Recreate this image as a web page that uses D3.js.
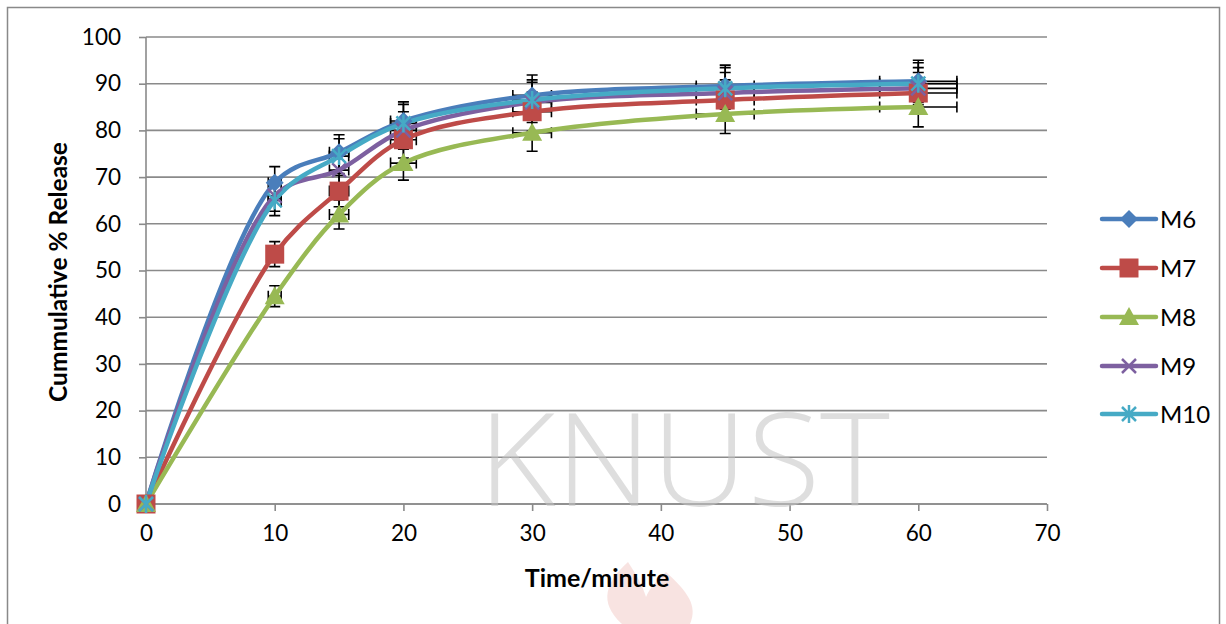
<!DOCTYPE html>
<html><head><meta charset="utf-8">
<script src="https://cdn.jsdelivr.net/npm/d3@7"></script>
<style>html,body{margin:0;padding:0;background:#fff;}svg{display:block;}</style>
</head><body>
<svg id="c" width="1226" height="624"></svg>
<script>
const times = [0, 10, 15, 20, 30, 45, 60];
const seriesNames = ["M6", "M7", "M8", "M9", "M10"];
const M6 = [0, 68.8, 75.3, 82.0, 87.5, 89.5, 90.5];
const M7 = [0, 53.5, 67.0, 78.0, 84.0, 86.5, 88.0];
const M8 = [0, 44.5, 62.0, 73.0, 79.5, 83.5, 85.0];
const M9 = [0, 66.0, 71.5, 80.0, 86.0, 88.0, 89.0];
const M10 = [0, 65.0, 74.5, 81.5, 86.5, 89.0, 90.0];
const errorPercent = 5; // Excel "Percentage" error bars, both X and Y
const xTicks = [0, 10, 20, 30, 40, 50, 60, 70];
const yTicks = [0, 10, 20, 30, 40, 50, 60, 70, 80, 90, 100];
const colors = ["#4A7EBB", "#BE4B48", "#98B954", "#7D60A0", "#46AAC5"];
const markers = ["diamond", "square", "triangle", "x", "star"];
const allSeries = [M6, M7, M8, M9, M10];

const svg = d3.select("#c");
const FONT = "Lato, 'Open Sans', 'DejaVu Sans', sans-serif";
const x = d3.scaleLinear().domain([0, 70]).range([146, 1047]);
const y = d3.scaleLinear().domain([0, 100]).range([504, 37]);

// outer frame
svg.append("rect").attr("x", 7.5).attr("y", 7.5).attr("width", 1212).attr("height", 640)
  .attr("fill", "#fff").attr("stroke", "#898989").attr("stroke-width", 1.5);

// faint flame watermark
svg.append("path")
  .attr("d", "M622,624 C598,602 606,582 628,562 C638,577 643,587 646,597 C650,587 658,580 666,572 C688,592 698,606 690,624 Z")
  .attr("fill", "#eab0a8").attr("opacity", 0.35);

// gridlines
svg.append("g").selectAll("line").data(yTicks).join("line")
  .attr("x1", x(0)).attr("x2", x(70)).attr("y1", d => y(d)).attr("y2", d => y(d))
  .attr("stroke", "#8a8a8a").attr("stroke-width", 1.6);

// y axis
const ya = svg.append("g").attr("transform", `translate(${x(0)},0)`)
  .call(d3.axisLeft(y).tickValues(yTicks).tickSize(7).tickPadding(18));
ya.select(".domain").attr("stroke", "#8a8a8a").attr("stroke-width", 1.6).attr("d", `M0,${y(100)}V${y(0)}`);
ya.selectAll(".tick line").attr("stroke", "#8a8a8a").attr("stroke-width", 1.6);
ya.selectAll(".tick text").attr("font-family", FONT).attr("font-size", 22.5).attr("fill", "#000");

// x axis
const xa = svg.append("g").attr("transform", `translate(0,${y(0)})`)
  .call(d3.axisBottom(x).tickValues(xTicks).tickSize(7).tickPadding(14));
xa.select(".domain").attr("stroke", "#8a8a8a").attr("stroke-width", 1.6).attr("d", `M${x(0)},0H${x(70)}`);
xa.selectAll(".tick line").attr("stroke", "#8a8a8a").attr("stroke-width", 1.6);
xa.selectAll(".tick text").attr("font-family", FONT).attr("font-size", 22.5).attr("fill", "#000");

// KNUST watermark
svg.append("text").attr("x", 684).attr("y", 506).attr("text-anchor", "middle")
  .attr("font-family", "'Open Sans', Lato, sans-serif").attr("font-weight", 300)
  .attr("font-size", 130).attr("fill", "#c4c4c4").attr("opacity", 0.55)
  .attr("textLength", 412).attr("lengthAdjust", "spacingAndGlyphs")
  .text("KNUST");

// axis titles
svg.append("text").attr("transform", "translate(67,272) rotate(-90)").attr("text-anchor", "middle")
  .attr("font-family", FONT).attr("font-weight", "bold").attr("font-size", 24.5).attr("fill", "#000")
  .text("Cummulative % Release");
svg.append("text").attr("x", 597).attr("y", 587).attr("text-anchor", "middle")
  .attr("font-family", FONT).attr("font-weight", "bold").attr("font-size", 25).attr("fill", "#000")
  .text("Time/minute");

function markerPath(type) {
  switch (type) {
    case "diamond": return "M0,-9L9,0L0,9L-9,0Z";
    case "square": return "M-9.5,-9.5H9.5V9.5H-9.5Z";
    case "triangle": return "M0,-10L10,8H-10Z";
    case "x": return "M-7,-7L7,7M-7,7L7,-7";
    case "star": return "M-7,-7L7,7M-7,7L7,-7M0,-9V9";
  }
}

const line = d3.line().x((d, i) => x(times[i])).y(d => y(d)).curve(d3.curveCatmullRom.alpha(0.5));

// error bars (below lines)
const eb = svg.append("g").attr("stroke", "#000").attr("stroke-width", 1.6).attr("fill", "none");
allSeries.forEach(vals => {
  vals.forEach((v, i) => {
    const t = times[i];
    const dy = v * errorPercent / 100, dx = t * errorPercent / 100;
    if (dy > 0) {
      eb.append("path").attr("d",
        `M${x(t)},${y(v + dy)}V${y(v - dy)}M${x(t) - 5.5},${y(v + dy)}h11M${x(t) - 5.5},${y(v - dy)}h11`);
    }
    if (dx > 0) {
      eb.append("path").attr("d",
        `M${x(t - dx)},${y(v)}H${x(t + dx)}M${x(t - dx)},${y(v) - 5.5}v11M${x(t + dx)},${y(v) - 5.5}v11`);
    }
  });
});

// series lines + markers
allSeries.forEach((vals, s) => {
  svg.append("path").datum(vals).attr("d", line).attr("fill", "none")
    .attr("stroke", colors[s]).attr("stroke-width", 4.5).attr("stroke-linejoin", "round").attr("stroke-linecap", "round");
});
allSeries.forEach((vals, s) => {
  const g = svg.append("g");
  const isStroke = markers[s] === "x" || markers[s] === "star";
  g.selectAll("path").data(vals).join("path")
    .attr("transform", (d, i) => `translate(${x(times[i])},${y(d)})`)
    .attr("d", markerPath(markers[s]))
    .attr("fill", isStroke ? "none" : colors[s])
    .attr("stroke", isStroke ? colors[s] : "none")
    .attr("stroke-width", isStroke ? 2.5 : 0);
});

// legend
const legendY = [219, 268, 317, 366, 414];
seriesNames.forEach((name, s) => {
  const g = svg.append("g").attr("transform", `translate(0,${legendY[s]})`);
  g.append("line").attr("x1", 1102).attr("x2", 1156).attr("y1", 0).attr("y2", 0)
    .attr("stroke", colors[s]).attr("stroke-width", 4.5).attr("stroke-linecap", "round");
  const isStroke = markers[s] === "x" || markers[s] === "star";
  g.append("path").attr("transform", "translate(1129,0)").attr("d", markerPath(markers[s]))
    .attr("fill", isStroke ? "none" : colors[s]).attr("stroke", isStroke ? colors[s] : "none")
    .attr("stroke-width", isStroke ? 2.5 : 0);
  g.append("text").attr("x", 1160).attr("y", 0).attr("dy", "0.36em")
    .attr("font-family", FONT).attr("font-size", 24).attr("fill", "#000").text(name);
});
</script>
</body></html>
